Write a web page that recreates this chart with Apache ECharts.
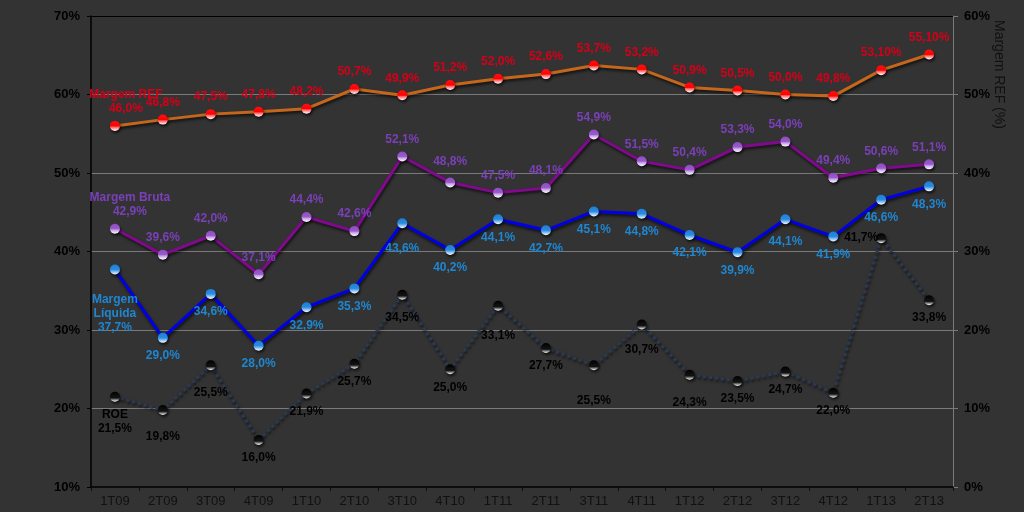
<!DOCTYPE html>
<html><head><meta charset="utf-8">
<script src="https://cdn.jsdelivr.net/npm/echarts@6/dist/echarts.min.js"></script>
<style>html,body{margin:0;padding:0;background:#333333;}#c{width:1024px;height:512px;}</style>
</head><body><div id="c"></div>
<script>
const categories = ['1T09','2T09','3T09','4T09','1T10','2T10','3T10','4T10','1T11','2T11','3T11','4T11','1T12','2T12','3T12','4T12','1T13','2T13'];
const margemREF = [46.0,46.8,47.5,47.8,48.2,50.7,49.9,51.2,52.0,52.6,53.7,53.2,50.9,50.5,50.0,49.8,53.1,55.1];
const margemREFLabels = ['46,0%','46,8%','47,5%','47,8%','48,2%','50,7%','49,9%','51,2%','52,0%','52,6%','53,7%','53,2%','50,9%','50,5%','50,0%','49,8%','53,10%','55,10%'];
const margemBruta = [42.9,39.6,42.0,37.1,44.4,42.6,52.1,48.8,47.5,48.1,54.9,51.5,50.4,53.3,54.0,49.4,50.6,51.1];
const margemLiquida = [37.7,29.0,34.6,28.0,32.9,35.3,43.6,40.2,44.1,42.7,45.1,44.8,42.1,39.9,44.1,41.9,46.6,48.3];
const roe = [21.5,19.8,25.5,16.0,21.9,25.7,34.5,25.0,33.1,27.7,25.5,30.7,24.3,23.5,24.7,22.0,41.7,33.8];
const leftTicks = [10,20,30,40,50,60,70];
const rightTicks = [0,10,20,30,40,50,60];

// label placement tweaks (layout only)
const liqDist = {0:18, 6:13, 14:10};
const roeDist = {1:15, 2:15, 6:11, 8:18, 10:23, 11:13, 12:16};
const bruDist = {7:9};

function fmt(v){ return v.toFixed(1).replace('.', ',') + '%'; }
function items(arr, pos, distMap, def, extra){
  return arr.map((v,i)=>{
    const it = {value:v, label:{position:pos, distance:(distMap[i]!==undefined?distMap[i]:def)}};
    if (extra && extra[i]) Object.assign(it.label, extra[i]);
    return it;
  });
}
function grad(top, mid, bottom){
  return new echarts.graphic.LinearGradient(0,0,0,1,[{offset:0,color:top},{offset:0.5,color:mid},{offset:0.62,color:bottom},{offset:1,color:'#ffffff'}]);
}
const font = '"Liberation Sans", Arial, sans-serif';
const shadow = {shadowColor:'rgba(0,0,0,0.7)', shadowBlur:3, shadowOffsetX:1, shadowOffsetY:2};
const labelBase = {show:true, fontFamily:font, fontWeight:'bold', fontSize:12, lineHeight:14};

const chart = echarts.init(document.getElementById('c'), null, {renderer:'canvas'});
chart.setOption({
  backgroundColor:'#333333',
  animation:false,
  grid:{left:91, right:71, top:16, bottom:25, containLabel:false},
  xAxis:{type:'category', data:categories, boundaryGap:true,
    axisLine:{lineStyle:{color:'#000', width:1.5}},
    axisTick:{show:true, alignWithLabel:false, length:4, lineStyle:{color:'#111'}},
    axisLabel:{color:'#111', fontFamily:font, fontSize:13, margin:8}},
  yAxis:[
    {type:'value', min:leftTicks[0], max:leftTicks[leftTicks.length-1], interval:10,
     axisLine:{show:true, lineStyle:{color:'#000', width:1.5}},
     axisTick:{show:true, length:4, lineStyle:{color:'#000'}},
     axisLabel:{color:'#000', fontFamily:font, fontWeight:'bold', fontSize:13, formatter:'{value}%', margin:11},
     splitLine:{show:true, lineStyle:{color:['#333','#7a7a7a','#7a7a7a','#7a7a7a','#7a7a7a','#7a7a7a','#000'], width:1}}},
    {type:'value', position:'right', min:rightTicks[0], max:rightTicks[rightTicks.length-1], interval:10,
     axisLine:{show:true, lineStyle:{color:'#7a7a7a', width:1}},
     axisTick:{show:true, length:5, lineStyle:{color:'#7a7a7a'}},
     axisLabel:{color:'#000', fontFamily:font, fontWeight:'bold', fontSize:13, formatter:'{value}%', margin:11},
     splitLine:{show:false}}
  ],
  graphic:[{type:'text', x:999, y:20, rotation:-Math.PI/2,
    style:{text:'Margem REF (%)', fill:'#111', font:'14px "Liberation Sans", Arial, sans-serif', textAlign:'left', textVerticalAlign:'middle'}}],
  series:[
    {name:'ROE', type:'line', yAxisIndex:0, data:items(roe,'bottom',roeDist,6,{16:{position:'left', distance:-2}}),
     symbol:'circle', symbolSize:10, z:2,
     lineStyle:Object.assign({color:'#2a3a55', width:3, type:'dotted'}, shadow),
     itemStyle:Object.assign({color:grad('#000','#111','#111')}, shadow),
     label:Object.assign({}, labelBase, {color:'#000', formatter:p=>p.dataIndex===0?'ROE\n'+fmt(p.value):fmt(p.value)})},
    {name:'Margem Líquida', type:'line', yAxisIndex:0, data:items(margemLiquida,'bottom',liqDist,6),
     symbol:'circle', symbolSize:10, z:3,
     lineStyle:Object.assign({color:'#0000e6', width:3}, shadow),
     itemStyle:Object.assign({color:grad('#1e7fd8','#2a8ae0','#5aa8ec')}, shadow),
     label:Object.assign({}, labelBase, {color:'#1f86d0', formatter:p=>p.dataIndex===0?'Margem\nLíquida\n'+fmt(p.value):fmt(p.value)})},
    {name:'Margem Bruta', type:'line', yAxisIndex:0, data:items(margemBruta,'top',bruDist,5,{0:{offset:[15,0]}}),
     symbol:'circle', symbolSize:10, z:4,
     lineStyle:Object.assign({color:'#800a8c', width:3}, shadow),
     itemStyle:Object.assign({color:grad('#8a4cc0','#9a5ccc','#c49ae6')}, shadow),
     label:Object.assign({}, labelBase, {color:'#7a40b8', formatter:p=>p.dataIndex===0?'Margem Bruta\n'+fmt(p.value):fmt(p.value)})},
    {name:'Margem REF', type:'line', yAxisIndex:1, data:items(margemREF,'top',{},5,{0:{offset:[11,0]}}),
     symbol:'circle', symbolSize:10, z:5,
     lineStyle:Object.assign({color:'#c4661c', width:3}, shadow),
     itemStyle:Object.assign({color:grad('#ff1010','#ff0000','#ff6060')}, shadow),
     label:Object.assign({}, labelBase, {color:'#d40018', formatter:p=>p.dataIndex===0?'Margem REF\n'+margemREFLabels[0]:margemREFLabels[p.dataIndex]})}
  ]
});
</script></body></html>
